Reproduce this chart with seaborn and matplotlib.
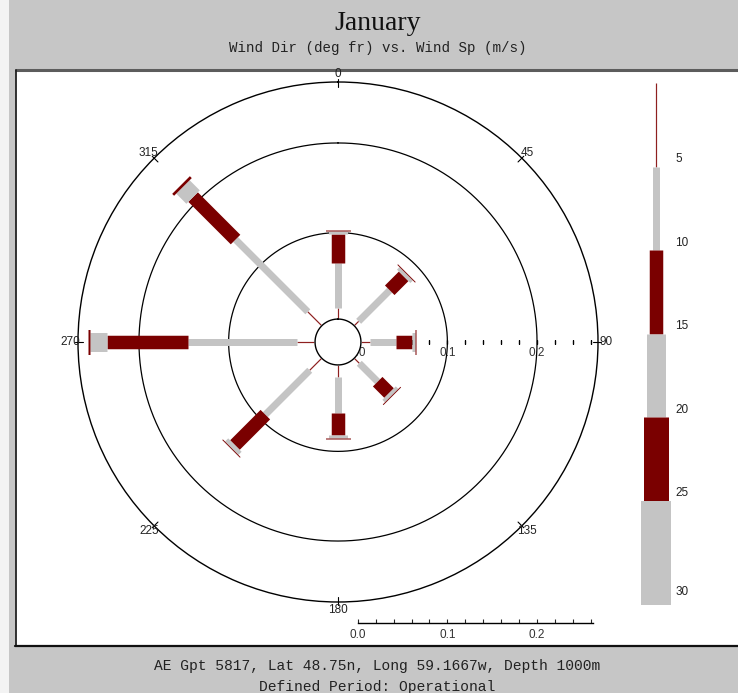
import numpy as np
import pandas as pd
import matplotlib
matplotlib.use("Agg")
import matplotlib.pyplot as plt
import seaborn as sns
from matplotlib.patches import Rectangle

# wind rose data: fraction of observations per direction and speed class
directions = [0, 45, 90, 135, 180, 225, 270, 315]
dir_labels = ["0", "45", "90", "135", "180", "225", "270", "315"]
speed_edges = [0, 5, 10, 15, 20, 25, 30]
freq_0_5 = [0.012, 0.007, 0.010, 0.008, 0.013, 0.019, 0.020, 0.022]
freq_5_10 = [0.051, 0.049, 0.029, 0.029, 0.041, 0.070, 0.122, 0.114]
freq_10_15 = [0.032, 0.022, 0.018, 0.018, 0.024, 0.048, 0.090, 0.067]
freq_15_20 = [0.003, 0.004, 0.003, 0.004, 0.004, 0.005, 0.019, 0.016]
freq_20_25 = [0.001, 0.001, 0.001, 0.001, 0.001, 0.001, 0.002, 0.003]
freq_25_30 = [0, 0, 0, 0, 0, 0, 0, 0]
ring_values = [0.1, 0.2]
scale_labels = [0.0, 0.1, 0.2]

df = pd.DataFrame({
    "direction": directions,
    "0-5": freq_0_5, "5-10": freq_5_10, "10-15": freq_10_15,
    "15-20": freq_15_20, "20-25": freq_20_25, "25-30": freq_25_30,
})
speed_bins = ["0-5", "5-10", "10-15", "15-20", "20-25", "25-30"]

RED = "#7a0000"
GREY = "#c4c4c4"
bin_colors = ["#8e2020", GREY, RED, GREY, RED, GREY]
bin_widths_px = [1.2, 7, 13.5, 19, 25, 30]

W, H = 738, 693
PT = 0.72  # points per pixel at dpi 100

sns.set_style("white")
plt.rcParams["font.family"] = ["Liberation Sans", "DejaVu Sans"]

fig = plt.figure(figsize=(W / 100, H / 100), dpi=100)
fig.patch.set_facecolor("#c6c6c6")


def fx(px):
    return px / W


def fy(py):
    return 1 - py / H


# white plot panel with borders (behind the axes)
fig.patches.append(Rectangle((0, 0), fx(9), 1, transform=fig.transFigure,
                             facecolor="#f3f3f3", edgecolor="none", zorder=-10))
fig.patches.append(Rectangle((fx(16), fy(646)), 1 - fx(16), fy(71) - fy(646),
                             transform=fig.transFigure, facecolor="white",
                             edgecolor="none", zorder=-10))
fig.add_artist(plt.Line2D([fx(16), 1], [fy(70), fy(70)], color="#5c5c5c", lw=2.2, zorder=-5))
fig.add_artist(plt.Line2D([fx(15.5), fx(15.5)], [fy(646), fy(70)], color="#222222", lw=1.3, zorder=-5))
fig.add_artist(plt.Line2D([fx(15), 1], [fy(646), fy(646)], color="#111111", lw=1.6, zorder=-5))

# polar rose
CX, CY, RPX = 338, 342, 260
RMAX = 0.29
OFFSET = 0.022
HOLE = 0.0256
ax = fig.add_axes([fx(CX - RPX), fy(CY + RPX), 2 * RPX / W, 2 * RPX / H],
                  projection="polar")
ax.set_theta_zero_location("N")
ax.set_theta_direction(-1)
ax.set_ylim(0, RMAX)
ax.grid(False)
ax.set_xticks([])
ax.set_yticks([])
ax.set_facecolor("none")
ax.spines["polar"].set_color("black")
ax.spines["polar"].set_linewidth(1.0)

theta = np.linspace(0, 2 * np.pi, 721)
for v in ring_values:
    ax.plot(theta, np.full_like(theta, OFFSET + v), color="black", lw=0.9)

for _, row in df.iterrows():
    th = np.radians(row["direction"])
    base = HOLE
    for b, c, w in zip(speed_bins, bin_colors, bin_widths_px):
        length = row[b]
        if length > 0:
            ax.plot([th, th], [base, base + length], color=c, lw=w * PT,
                    solid_capstyle="butt", zorder=2)
            base += length

# dotted scale marks along the east axis
marks = np.arange(0.02, 0.261, 0.02)
ax.plot(np.full_like(marks, np.pi / 2), OFFSET + marks, ls="none", marker="|",
        ms=3.5, mew=1.0, color="black", zorder=1)
for v in scale_labels:
    ax.annotate(f"{v:.1f}", xy=(np.pi / 2, OFFSET + v), xytext=(0, -8),
                textcoords="offset points", ha="center", va="center",
                fontsize=8.5, color="#333333", zorder=1)

# centre hole drawn over the labels
ax.fill(theta, np.full_like(theta, HOLE), color="white", zorder=3)
ax.plot(theta, np.full_like(theta, HOLE), color="black", lw=1.0, zorder=4)

# direction ticks and labels on the outer ring
for d, lab in zip(directions, dir_labels):
    th = np.radians(d)
    ax.plot([th, th], [RMAX - 0.006, RMAX + 0.003], color="black", lw=0.8,
            clip_on=False)
    ax.text(th, RMAX + 0.0085, lab, ha="center", va="center", fontsize=8.5,
            color="#222222", clip_on=False)

# bottom scale bar (same scale as the rose)
px_per_unit = RPX / RMAX
bar_len = 0.262
sb = fig.add_axes([fx(CX + OFFSET * px_per_unit), fy(623), bar_len * px_per_unit / W, 8 / H])
sb.set_xlim(0, bar_len)
sb.set_ylim(0, 1)
sb.set_facecolor("none")
sns.despine(ax=sb, left=True, top=True, right=True)
sb.spines["bottom"].set_linewidth(1.0)
sb.spines["bottom"].set_color("black")
sb.set_yticks([])
sb.set_xticks(scale_labels)
sb.set_xticklabels([f"{v:.1f}" for v in scale_labels])
sb.set_xticks(np.arange(0, bar_len, 0.02), minor=True)
sb.tick_params(axis="x", which="both", direction="in", bottom=True, length=3,
               width=0.8, labelsize=8.5, pad=4, labelcolor="#333333")

# speed class legend bar
LEG_TOP, LEG_BOT = 83, 605
leg_max = 31.25
lg = fig.add_axes([fx(616), fy(LEG_BOT), 80 / W, (LEG_BOT - LEG_TOP) / H])
lg.set_xlim(-1, 1)
lg.set_ylim(leg_max, 0)
lg.axis("off")
for i, (c, w) in enumerate(zip(bin_colors, bin_widths_px)):
    lo = speed_edges[i]
    hi = speed_edges[i + 1] if i < len(speed_bins) - 1 else leg_max
    lg.plot([0, 0], [lo, hi], color=c, lw=w * PT, solid_capstyle="butt")
for e in speed_edges[1:]:
    ypos = e - 0.45 if e < speed_edges[-1] else leg_max - 0.75
    lg.text(0.48, ypos, str(e), ha="left", va="center", fontsize=8.5,
            color="#222222", clip_on=False)

# header and footer
xc = fx(377.5)
fig.text(xc, fy(23), "January", ha="center", va="center", fontsize=20,
         family="Liberation Serif", color="#111111")
fig.text(xc, fy(48), "Wind Dir (deg fr) vs. Wind Sp (m/s)", ha="center",
         va="center", fontsize=10.2, family="Liberation Mono", color="#222222")
fig.text(xc, fy(666), "AE Gpt 5817, Lat 48.75n, Long 59.1667w, Depth 1000m",
         ha="center", va="center", fontsize=10.5, family="Liberation Mono",
         color="#222222")
fig.text(xc, fy(687), "Defined Period: Operational", ha="center", va="center",
         fontsize=10.5, family="Liberation Mono", color="#222222")

fig.savefig("out.png", dpi=100, facecolor=fig.get_facecolor())
